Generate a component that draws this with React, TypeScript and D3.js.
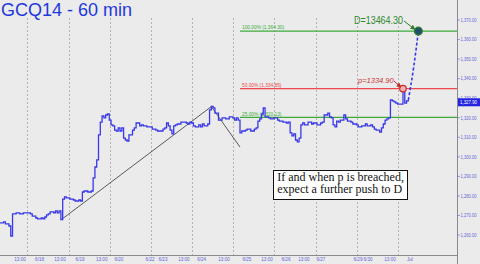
import React from "react";
import * as d3 from "d3";

const W = 480;
const H = 264;

// hourly bar index and closing prices
const barIndex = [0,2,3,4,5,6,7,9,11,13,16,17,18,20,21,23,24,25,26,27,28,30,31,32,33,34,35,36,37,39,41,42,44,45,46,47,49,51,52,53,54,55,56,57,58,59,60,61,62,63,64,65,66,67,68,69,70,71,72,74,75,76,78,79,80,82,84,85,87,88,89,91,92,93,94,95,96,97,98,99,101,102,104,105,106,107,108,109,111,112,113,114,116,117,118,119,120,122,124,126,128,130,131,132,133,134,135,137,138,140,142,143,144,145,146,147,148,150,151,153,155,156,158,160,161,162,163,164,165,166,167,168,169,170,172,174,175,177,179,180,181,183,184,185,186,187,188,189,190,192,193,194,196,197,199,200,202,204,205,207,208,209,210,212,213,214,215,216,217,218,219,220,221,222,223,224,225,226,227,228];
const closePrices = [1266.2,1266.7,1265.7,1265.7,1264.6,1259.5,1270.8,1271.3,1270.8,1271.3,1271.3,1270.8,1269.7,1268.7,1268.2,1268.7,1268.2,1269.2,1270.3,1270.8,1271.8,1271.3,1272.3,1271.3,1272.3,1267.9,1278.4,1279.5,1279.0,1278.4,1277.9,1277.4,1277.9,1277.4,1282.0,1282.5,1282.0,1282.5,1289.2,1294.8,1298.4,1311.2,1317.8,1320.9,1319.9,1321.4,1321.9,1318.8,1316.3,1315.8,1313.7,1313.2,1314.8,1313.2,1314.8,1309.6,1308.6,1308.1,1311.2,1313.7,1314.8,1317.3,1315.8,1316.3,1315.8,1315.3,1315.3,1314.2,1313.7,1313.2,1313.2,1314.2,1314.8,1317.3,1315.8,1313.7,1311.7,1315.8,1316.3,1316.8,1317.8,1317.8,1317.3,1316.8,1317.8,1317.3,1315.8,1315.3,1316.3,1315.3,1316.8,1315.8,1316.8,1324.0,1325.8,1325.0,1322.4,1318.8,1319.9,1319.4,1320.4,1319.9,1318.8,1319.9,1318.8,1312.2,1313.2,1313.7,1314.2,1313.2,1314.2,1314.8,1318.3,1319.4,1321.9,1325.0,1320.4,1319.9,1319.4,1319.9,1318.8,1318.3,1317.8,1317.3,1317.8,1312.2,1310.7,1311.7,1308.6,1307.6,1309.6,1316.3,1317.3,1316.3,1317.8,1316.8,1317.3,1316.3,1317.3,1317.8,1321.4,1322.4,1320.4,1319.9,1316.3,1315.3,1318.3,1317.8,1318.8,1321.4,1319.4,1318.3,1317.8,1316.8,1316.3,1315.3,1315.8,1316.8,1315.8,1316.3,1315.3,1314.2,1313.7,1312.7,1314.8,1316.8,1318.8,1319.4,1319.9,1329.1,1328.6,1328.1,1327.5,1327.0,1327.0,1327.0,1334.6,1327.5,1328.6,1329.1];

// ABC pattern
const abcBars = [34, 118, 134];
const abcPrices = [1267.7, 1325.7, 1305.0];

// projection to D
const projBars = [228, 231, 233.6];
const projPrices = [1329.1, 1346.0, 1364.3];

// Fibonacci-style levels
const fibPrices = [1364.3, 1334.85, 1320.13];
const fibLabels = ["100.00% (1,364.30)", "50.00% (1,334.85)", "25.00% (1,320.13)"];
const fibColors = ["#3cab3c", "#f04848", "#3cab3c"];

const pBar = 225;
const pPrice = 1334.9;
const dBar = 233.6;
const dPrice = 1364.3;
const lastPriceLabel = "1,327.90";
const lastPrice = 1327.9;

const priceTicks = [1260,1270,1280,1290,1300,1310,1320,1330,1340,1350,1360,1370];
const dayGridBars = [15.25,38.25,61.25,84.25,107.25,130.25,153.25,176.25,199.25,222.25];
const xTickBars = [11.2,22.1,33.5,44.7,56.8,66.4,83.8,91.0,102.7,112.6,125.1,137.9,149.1,159.7,169.7,179.2,199.9,205.5,217.8,228.9];
const xTickLabels = ["13:00","6/18","13:00","6/19","13:00","6/20","6/22","6/23","13:00","6/24","13:00","6/25","13:00","6/26","13:00","6/27","6/29","6/30","13:00","Jul"];

export default function App() {
  const axisX = 457;
  const axisY = 255;
  const x = d3.scaleLinear().domain([0, 255]).range([0, 456.7]);
  const y = d3.scaleLinear().domain([1260, 1370]).range([235, 20]);
  const fmt = d3.format(",.2f");
  const snap = (v: number) => Math.round(v) + 0.5;

  const pts = barIndex.map((b, i) => [b, closePrices[i]] as [number, number]);
  const line = d3.line<[number, number]>().x(d => x(d[0])).y(d => y(d[1])).curve(d3.curveStepAfter);
  const straight = d3.line<[number, number]>().x(d => x(d[0])).y(d => y(d[1]));
  const proj = d3.line<[number, number]>().x(d => x(d[0])).y(d => y(d[1])).curve(d3.curveMonotoneX);

  const blue = "#3838ea";
  const tickColor = "#6464d6";

  return (
    <svg width={W} height={H} style={{ position: "absolute", left: 0, top: 0, display: "block" }}
      fontFamily="Liberation Sans, Arial, sans-serif">
      <defs>
        <marker id="ag" viewBox="0 0 10 10" refX="9" refY="5" markerWidth="5" markerHeight="5" orient="auto">
          <path d="M0,0 L10,5 L0,10 z" fill="#2f7a2f" />
        </marker>
        <marker id="ar" viewBox="0 0 10 10" refX="9" refY="5" markerWidth="5" markerHeight="5" orient="auto">
          <path d="M0,0 L10,5 L0,10 z" fill="#c03030" />
        </marker>
      </defs>
      <rect x={0} y={0} width={W} height={H} fill="#ebebeb" />

      {dayGridBars.map((b, i) => (
        <line key={i} x1={snap(x(b))} x2={snap(x(b))} y1={18} y2={axisY} stroke="#9a9a9a" strokeWidth={0.7} strokeDasharray="2,2" />
      ))}

      <text x={1} y={16} fontSize={18} fill="#2238dc">GCQ14 - 60 min</text>

      {fibPrices.map((p, i) => (
        <g key={i}>
          <line x1={x(abcBars[2])} x2={axisX} y1={y(p)} y2={y(p)} stroke={fibColors[i]} strokeWidth={1.2} />
          <text x={x(abcBars[2]) + 2} y={y(p) - 1.8} fontSize={4.8} fill={fibColors[i]}>{fibLabels[i]}</text>
        </g>
      ))}

      <path d={straight(abcBars.map((b, i) => [b, abcPrices[i]] as [number, number])) || ""} fill="none" stroke="#333" strokeWidth={0.8} />

      <path d={line(pts) || ""} fill="none" stroke={blue} strokeWidth={1.3} />
      <path d={proj(projBars.map((b, i) => [b, projPrices[i]] as [number, number])) || ""} fill="none" stroke={blue} strokeWidth={1.6} strokeDasharray="3,2" />

      <circle cx={x(pBar)} cy={y(pPrice)} r={3.3} fill="#f3b0b0" stroke="#cc2a2a" strokeWidth={1.2} />
      <circle cx={x(dBar)} cy={y(dPrice)} r={3.8} fill="#1f4f6f" stroke="#2f7a2f" strokeWidth={1.5} />

      <text x={354} y={24} fontSize={10} fill="#2f8a2f" textLength={49} lengthAdjust="spacingAndGlyphs">D=13464.30</text>
      <line x1={404} y1={21} x2={415} y2={29.5} stroke="#2f7a2f" strokeWidth={1} markerEnd="url(#ag)" />

      <text x={358} y={83.3} fontSize={8} fontStyle="italic" fill="#d03535" textLength={35.7} lengthAdjust="spacingAndGlyphs">p=1334.90</text>
      <line x1={394} y1={81} x2={401} y2={87.3} stroke="#c03030" strokeWidth={1} markerEnd="url(#ar)" />

      <rect x={273.5} y={170.5} width={134} height={29} fill="#ffffff" stroke="#111" strokeWidth={1} />
      <text x={277.3} y={180.7} fontSize={12} fontFamily="Liberation Serif, Times New Roman, serif" fill="#111">If and when p is breached,</text>
      <text x={277.3} y={193.3} fontSize={12} fontFamily="Liberation Serif, Times New Roman, serif" fill="#111">expect a further push to D</text>

      <line x1={0} x2={axisX} y1={axisY + 0.5} y2={axisY + 0.5} stroke="#8a8a8a" strokeWidth={1} />
      <line x1={axisX + 0.5} x2={axisX + 0.5} y1={0} y2={H} stroke="#8a8a8a" strokeWidth={1} />

      {priceTicks.map((t, i) => (
        <g key={i}>
          <line x1={axisX} x2={axisX + 3} y1={y(t)} y2={y(t)} stroke={tickColor} strokeWidth={0.6} />
          <text x={axisX + 3.5} y={y(t) + 1.8} fontSize={4.8} fill={tickColor} textLength={16} lengthAdjust="spacingAndGlyphs">{fmt(t)}</text>
        </g>
      ))}

      <rect x={axisX + 1} y={y(lastPrice) - 4} width={22} height={8} fill="#2424e0" />
      <text x={axisX + 3} y={y(lastPrice) + 1.8} fontSize={4.8} fill="#ffffff" textLength={17} lengthAdjust="spacingAndGlyphs">{lastPriceLabel}</text>

      {xTickBars.map((b, i) => (
        <text key={i} x={x(b)} y={260.5} fontSize={4.6} textAnchor="middle" fill={tickColor}>{xTickLabels[i]}</text>
      ))}
    </svg>
  );
}
